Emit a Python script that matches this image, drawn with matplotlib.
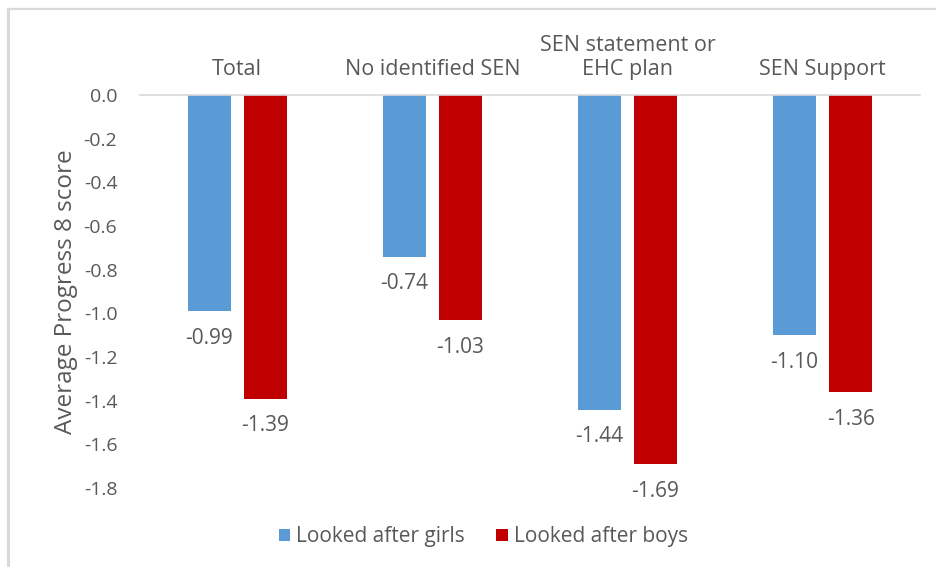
import matplotlib.pyplot as plt
from matplotlib.lines import Line2D
import numpy as np

plt.rcParams['font.family'] = ['Open Sans', 'DejaVu Sans']

categories = ["Total", "No identified SEN", "SEN statement or\nEHC plan", "SEN Support"]
girls = [-0.99, -0.74, -1.44, -1.10]
boys = [-1.39, -1.03, -1.69, -1.36]
series_names = ["Looked after girls", "Looked after boys"]
colors = ["#5B9BD5", "#C00000"]
text_col = "#595959"

W, H = 937, 567
fig = plt.figure(figsize=(W / 100, H / 100), dpi=100)
fig.patch.set_facecolor("white")

# frame edges along the top and left of the chart area
fig.add_artist(Line2D([8 / W, 1.0], [1 - 8.5 / H, 1 - 8.5 / H],
                      transform=fig.transFigure, color="#D9D9D9", linewidth=1.6))
fig.add_artist(Line2D([8.5 / W, 8.5 / W], [1 - 8.5 / H, 0.0],
                      transform=fig.transFigure, color="#D9D9D9", linewidth=2.2))

ax = fig.add_axes([0.149, 0.139, 0.833, 0.6935])
x = np.arange(len(categories))
w = 0.22
off = 0.144
for vals, name, col, dx in [(girls, series_names[0], colors[0], -off),
                            (boys, series_names[1], colors[1], off)]:
    bars = ax.bar(x + dx, vals, width=w, color=col, label=name)
    for b, v in zip(bars, vals):
        ax.annotate(f"{v:.2f}", (b.get_x() + b.get_width() / 2, v),
                    xytext=(0, -19.5), textcoords="offset points",
                    ha="center", va="center", fontsize=15, color=text_col)

ax.set_xlim(-0.5, len(categories) - 0.5)
ax.set_ylim(-1.8, 0)
ax.set_yticks(np.arange(-1.8, 0.01, 0.2))
ax.yaxis.set_major_formatter(plt.FuncFormatter(lambda v, p: f"{v:.1f}" if abs(v) > 1e-9 else "0.0"))
ax.tick_params(axis="y", length=0, pad=16, labelsize=14, labelcolor=text_col)
ax.xaxis.tick_top()
ax.set_xticks(x)
ax.set_xticklabels(categories, linespacing=1.15)
ax.tick_params(axis="x", length=0, pad=11, labelsize=15.5, labelcolor=text_col)
for s in ["left", "right", "bottom"]:
    ax.spines[s].set_visible(False)
ax.spines["top"].set_color("#D9D9D9")
ax.spines["top"].set_linewidth(1.2)
ax.set_ylabel("Average Progress 8 score", fontsize=17.5, color=text_col, labelpad=4)

leg = fig.legend(loc="center", bbox_to_anchor=(0.516, 0.053), ncol=2, frameon=False,
                 fontsize=15, handlelength=0.55, handleheight=0.55, handletextpad=0.3,
                 columnspacing=1.5, labelcolor=text_col)

fig.savefig("out.png", dpi=100)
